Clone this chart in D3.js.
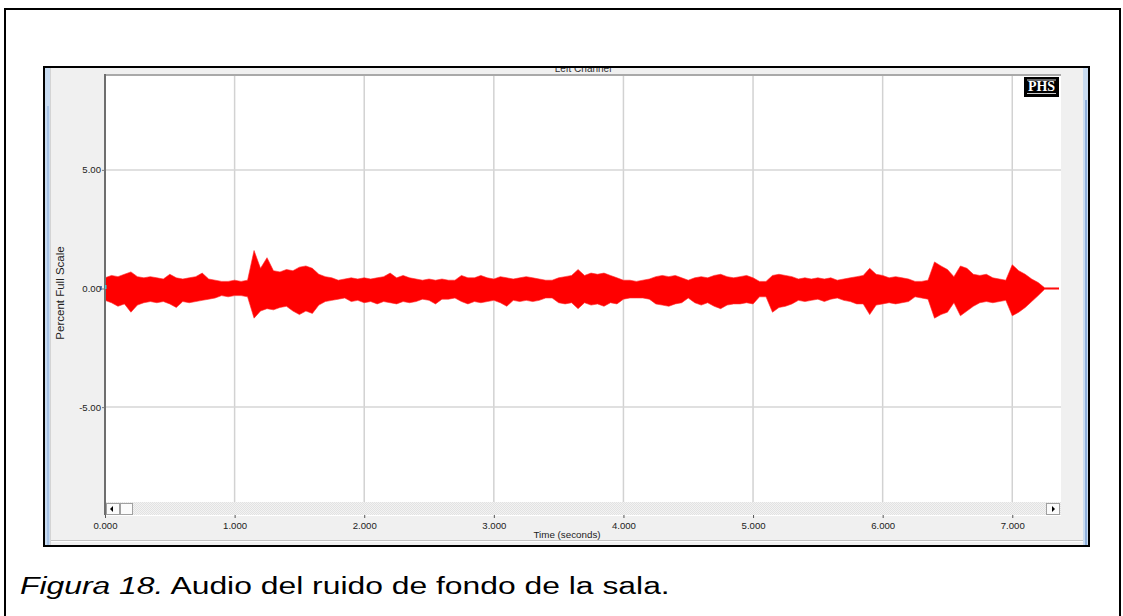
<!DOCTYPE html>
<html>
<head>
<meta charset="utf-8">
<script src="https://cdn.jsdelivr.net/npm/d3@7"></script>
<style>
  html, body { margin: 0; padding: 0; background: #ffffff; }
  svg { display: block; font-family: Arial, "Liberation Sans", sans-serif; }
</style>
</head>
<body>
<svg id="chart" width="1123" height="616"></svg>
<script>
// Peak envelope of the recording, read every 0.05 s (percent of full scale).
const sampleStep = 0.05;
const peakUpper = [
  0.45,0.55,0.50,0.60,0.70,0.50,0.45,0.50,0.45,0.40, 0.60,0.45,0.40,0.45,0.50,0.65,0.40,0.35,0.30,0.30,
  0.35,0.30,0.35,1.60,0.85,1.30,0.75,0.70,0.80,0.75, 0.90,0.95,0.85,0.60,0.50,0.45,0.35,0.40,0.45,0.40,
  0.45,0.40,0.45,0.50,0.65,0.45,0.55,0.45,0.40,0.35, 0.40,0.35,0.40,0.35,0.35,0.55,0.45,0.45,0.55,0.45,
  0.40,0.50,0.45,0.40,0.45,0.50,0.45,0.40,0.35,0.35, 0.45,0.50,0.55,0.80,0.55,0.65,0.60,0.65,0.55,0.45,
  0.35,0.35,0.30,0.35,0.40,0.50,0.55,0.50,0.55,0.45, 0.35,0.45,0.50,0.45,0.55,0.60,0.50,0.45,0.50,0.55,
  0.45,0.30,0.30,0.55,0.60,0.55,0.50,0.40,0.45,0.40, 0.45,0.40,0.45,0.35,0.40,0.45,0.50,0.55,0.85,0.60,
  0.55,0.45,0.50,0.45,0.40,0.30,0.30,0.35,1.12,0.95, 0.80,0.50,0.95,0.85,0.60,0.55,0.60,0.45,0.40,0.35,
  1.00,0.75,0.60,0.40,0.25, 0.03,0.03,0.03,0.03
];
const peakLower = [
  -0.50,-0.60,-0.75,-0.65,-1.00,-0.70,-0.60,-0.55,-0.60,-0.55, -0.65,-0.80,-0.55,-0.60,-0.55,-0.50,-0.45,-0.40,-0.30,-0.35,
  -0.30,-0.30,-0.35,-1.25,-0.95,-0.85,-0.90,-0.80,-0.75,-0.95, -1.10,-0.95,-1.05,-0.70,-0.55,-0.50,-0.45,-0.40,-0.55,-0.50,
  -0.60,-0.55,-0.65,-0.55,-0.60,-0.65,-0.55,-0.60,-0.55,-0.45, -0.50,-0.65,-0.45,-0.45,-0.40,-0.55,-0.65,-0.55,-0.60,-0.55,
  -0.50,-0.60,-0.75,-0.50,-0.55,-0.50,-0.55,-0.50,-0.40,-0.40, -0.60,-0.65,-0.60,-0.85,-0.60,-0.70,-0.65,-0.75,-0.60,-0.65,
  -0.45,-0.40,-0.40,-0.40,-0.45,-0.65,-0.70,-0.75,-0.65,-0.60, -0.40,-0.60,-0.70,-0.60,-0.75,-0.85,-0.70,-0.65,-0.65,-0.60,
  -0.65,-0.35,-0.35,-1.00,-0.80,-0.75,-0.65,-0.50,-0.55,-0.50, -0.45,-0.55,-0.45,-0.40,-0.50,-0.55,-0.65,-0.65,-1.10,-0.70,
  -0.65,-0.60,-0.65,-0.60,-0.55,-0.35,-0.40,-0.45,-1.25,-1.10, -1.00,-0.60,-1.15,-0.95,-0.75,-0.60,-0.55,-0.60,-0.55,-0.50,
  -1.15,-1.00,-0.80,-0.55,-0.30, -0.03,-0.03,-0.03,-0.03
];
const xTickValues = [0, 1, 2, 3, 4, 5, 6, 7];
const yTickValues = [-5, 0, 5];
const timeExtent = [0, 7.376];
const levelExtent = [-9, 9];
const chartTitle = "Left Channel";
const xTitle = "Time (seconds)";
const yTitle = "Percent Full Scale";
const captionLead = "Figura 18.";
const captionRest = " Audio del ruido de fondo de la sala.";

const svg = d3.select("#chart");
const defs = svg.append("defs");

// plot rectangle
const P = { left: 105, right: 1061, top: 75, bottom: 502, floor: 515 };

// outer page frame
svg.append("rect").attr("x", 5).attr("y", 9).attr("width", 1115).attr("height", 700)
  .attr("fill", "none").attr("stroke", "#000").attr("stroke-width", 2);

// window frame
svg.append("rect").attr("x", 44).attr("y", 67).attr("width", 1045).attr("height", 479)
  .attr("fill", "#f0f0f0").attr("stroke", "#000").attr("stroke-width", 2);
// side strips
svg.append("rect").attr("x", 45).attr("y", 68).attr("width", 5).attr("height", 477).attr("fill", "#c9dcf1");
svg.append("rect").attr("x", 47).attr("y", 106).attr("width", 2).attr("height", 439).attr("fill", "#a9c4e6");
svg.append("rect").attr("x", 1083).attr("y", 68).attr("width", 5).attr("height", 477).attr("fill", "#c9dcf1");
svg.append("rect").attr("x", 1085).attr("y", 100).attr("width", 2).attr("height", 445).attr("fill", "#8fb0dc");
svg.append("line").attr("x1", 50.5).attr("x2", 50.5).attr("y1", 68).attr("y2", 545).attr("stroke", "#d4d4d4");

// title, mostly hidden behind the window frame
defs.append("clipPath").attr("id", "titleClip")
  .append("rect").attr("x", 50).attr("y", 68).attr("width", 1030).attr("height", 10);
svg.append("text").attr("clip-path", "url(#titleClip)")
  .attr("x", 583).attr("y", 71.5).attr("text-anchor", "middle")
  .attr("font-size", 10).attr("fill", "#333").text(chartTitle);

// plot background
svg.append("rect").attr("x", P.left).attr("y", P.top)
  .attr("width", P.right - P.left).attr("height", P.floor - P.top).attr("fill", "#fff");

const x = d3.scaleLinear().domain(timeExtent).range([P.left, P.right]);
const y = d3.scaleLinear().domain(levelExtent).range([P.bottom, P.top]);

// grid
const grid = svg.append("g");
grid.selectAll("line.v").data(xTickValues.filter(d => d > 0)).join("line")
  .attr("x1", d => x(d)).attr("x2", d => x(d)).attr("y1", P.top).attr("y2", P.bottom)
  .attr("stroke", "#d2d2d2").attr("stroke-width", 1.5);
grid.selectAll("line.h").data(yTickValues.filter(d => d !== 0)).join("line")
  .attr("x1", P.left).attr("x2", P.right).attr("y1", d => y(d)).attr("y2", d => y(d))
  .attr("stroke", "#d6d6d6").attr("stroke-width", 1.5);

// waveform envelope
defs.append("clipPath").attr("id", "plotClip")
  .append("rect").attr("x", P.left).attr("y", P.top).attr("width", P.right - 2 - P.left).attr("height", P.bottom - P.top);
const samples = peakUpper.map((u, i) => ({ t: i * sampleStep, hi: u, lo: peakLower[i] }));
const area = d3.area().x(d => x(d.t)).y0(d => y(d.lo)).y1(d => y(d.hi));
svg.append("path").datum(samples).attr("clip-path", "url(#plotClip)")
  .attr("d", area).attr("fill", "#ff0000").attr("stroke", "#ff2a2a").attr("stroke-width", 0.6);

// plot borders
svg.append("line").attr("x1", P.left - 1).attr("x2", P.right).attr("y1", P.top).attr("y2", P.top)
  .attr("stroke", "#a9a9a9").attr("stroke-width", 2);
svg.append("line").attr("x1", P.left).attr("x2", P.left).attr("y1", P.top - 1).attr("y2", P.floor)
  .attr("stroke", "#6e6e6e").attr("stroke-width", 2);

// small origin markers
svg.append("rect").attr("x", 100).attr("y", 286).attr("width", 2).attr("height", 4).attr("fill", "#5a7fb0");
svg.append("rect").attr("x", 105).attr("y", 285).attr("width", 1.5).attr("height", 4).attr("fill", "#3cc8d2");

// scrollbar
const pat = defs.append("pattern").attr("id", "dither").attr("width", 2).attr("height", 2)
  .attr("patternUnits", "userSpaceOnUse");
pat.append("rect").attr("width", 2).attr("height", 2).attr("fill", "#f3f3f3");
pat.append("rect").attr("width", 1).attr("height", 1).attr("fill", "#e2e2e2");
pat.append("rect").attr("x", 1).attr("y", 1).attr("width", 1).attr("height", 1).attr("fill", "#e2e2e2");
svg.append("rect").attr("x", P.left + 1).attr("y", P.bottom).attr("width", P.right - P.left - 1)
  .attr("height", P.floor - P.bottom).attr("fill", "url(#dither)");
function button(x0, w) {
  svg.append("rect").attr("x", x0 + 0.5).attr("y", P.bottom + 1.5).attr("width", w).attr("height", 11)
    .attr("fill", "#fbfbfb").attr("stroke", "#a0a0a0");
}
button(106, 13);
button(120, 12);
button(1046, 13);
svg.append("path").attr("d", "M110,509 L113,506 L113,512 Z").attr("fill", "#000");
svg.append("path").attr("d", "M1055,509 L1052,506 L1052,512 Z").attr("fill", "#000");
svg.append("line").attr("x1", P.left).attr("x2", P.right).attr("y1", P.floor + 0.5).attr("y2", P.floor + 0.5)
  .attr("stroke", "#ffffff");

// x axis
const xAxis = svg.append("g").attr("transform", `translate(0,${P.floor})`)
  .call(d3.axisBottom(x).tickValues(xTickValues).tickFormat(d => d.toFixed(3)).tickSize(3).tickPadding(4));
xAxis.select(".domain").remove();
xAxis.selectAll("line").attr("stroke", "#555");
xAxis.selectAll("text").attr("font-size", 9.6).attr("fill", "#222").attr("font-family", "Arial, 'Liberation Sans', sans-serif");

// y axis
const yAxis = svg.append("g").attr("transform", `translate(${P.left},0)`)
  .call(d3.axisLeft(y).tickValues(yTickValues).tickFormat(d => d.toFixed(2)).tickSize(3).tickPadding(1));
yAxis.select(".domain").remove();
yAxis.selectAll("line").attr("stroke", "#777");
yAxis.selectAll("text").attr("font-size", 9.6).attr("fill", "#222").attr("font-family", "Arial, 'Liberation Sans', sans-serif");

// axis titles
svg.append("text").attr("x", 567).attr("y", 537.5).attr("text-anchor", "middle")
  .attr("font-size", 9.8).attr("fill", "#222").text(xTitle);
svg.append("text").attr("transform", "translate(64,293) rotate(-90)").attr("text-anchor", "middle")
  .attr("font-size", 11.5).attr("fill", "#222").text(yTitle);

// status line at the bottom of the window
svg.append("line").attr("x1", 51).attr("x2", 1083).attr("y1", 540.5).attr("y2", 540.5).attr("stroke", "#c4c4c4");
svg.append("line").attr("x1", 51).attr("x2", 1083).attr("y1", 541.5).attr("y2", 541.5).attr("stroke", "#fdfdfd");

// PHS badge
const badge = svg.append("g");
badge.append("rect").attr("x", 1024).attr("y", 77).attr("width", 35).attr("height", 20).attr("fill", "#000");
badge.append("line").attr("x1", 1027).attr("x2", 1056).attr("y1", 80).attr("y2", 80).attr("stroke", "#fff").attr("stroke-width", 0.8);
badge.append("line").attr("x1", 1027).attr("x2", 1056).attr("y1", 93.5).attr("y2", 93.5).attr("stroke", "#fff").attr("stroke-width", 0.8);
badge.append("text").attr("x", 1041.5).attr("y", 91.3).attr("text-anchor", "middle")
  .attr("font-family", "'Liberation Serif', 'DejaVu Serif', serif").attr("font-weight", "bold")
  .attr("font-size", 14).attr("fill", "#fff").text("PHS");

// caption (wide setting)
const cap = svg.append("text").attr("transform", "translate(20,594) scale(1.3,1)")
  .attr("font-size", 24.5).attr("fill", "#000");
cap.append("tspan").attr("font-style", "italic").text(captionLead);
cap.append("tspan").text(captionRest);
</script>
</body>
</html>
